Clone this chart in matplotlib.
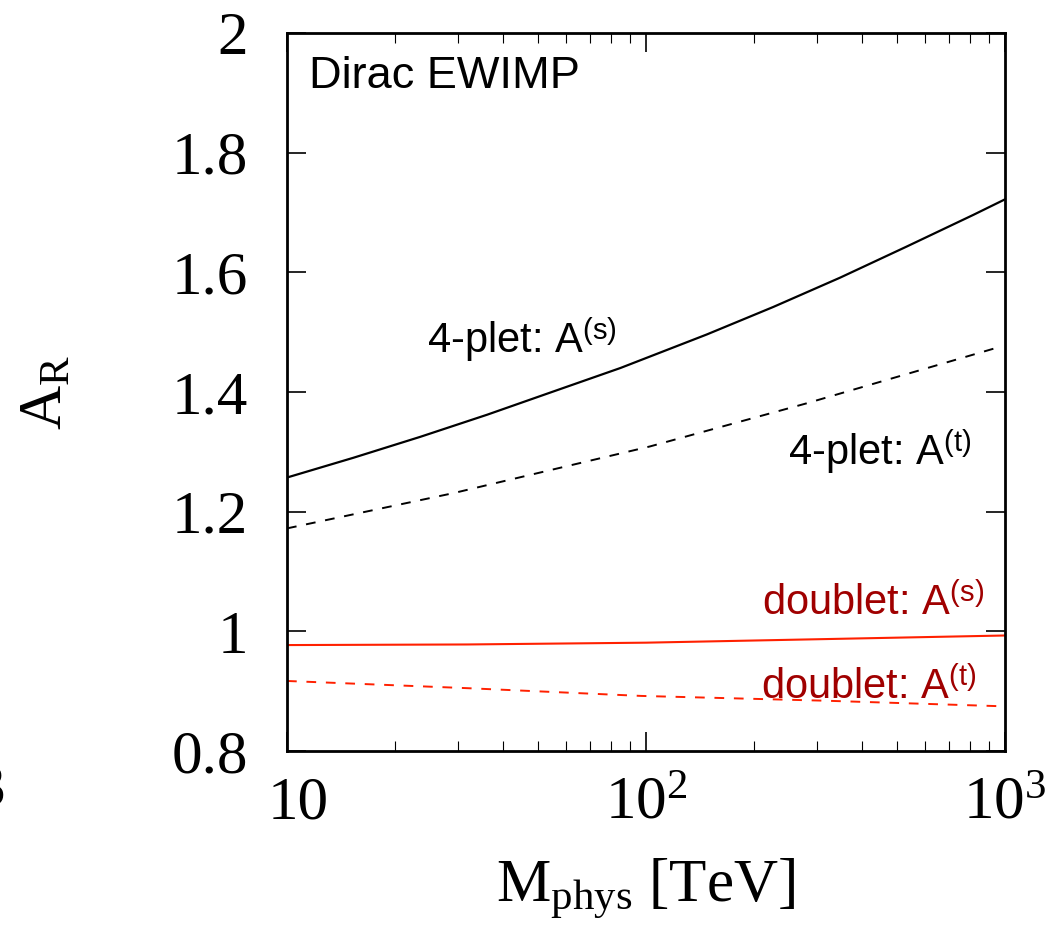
import numpy as np
import matplotlib
matplotlib.use('Agg')
import matplotlib.pyplot as plt
from matplotlib.ticker import LogLocator, FixedLocator, NullFormatter
from matplotlib.transforms import ScaledTranslation

plt.rcParams['mathtext.fontset'] = 'custom'
plt.rcParams['mathtext.rm'] = 'Liberation Serif'
plt.rcParams['mathtext.it'] = 'Liberation Serif:italic'
plt.rcParams['mathtext.sf'] = 'Liberation Sans'

# values
m_4s = [10, 15.3, 23.5, 36.1, 55.3, 84.8, 147.5, 226, 347, 532, 816, 1000]
a_4s = [1.257, 1.290, 1.325, 1.362, 1.401, 1.440, 1.496, 1.542, 1.591, 1.643, 1.696, 1.722]
m_4t = [10, 29.1, 102.6, 280, 937]
a_4t = [1.172, 1.231, 1.309, 1.381, 1.473]
m_2s = [10, 31.7, 100, 316, 1000]
a_2s = [0.977, 0.978, 0.981, 0.987, 0.993]
m_2t = [10, 31.7, 97, 316, 948]
a_2t = [0.917, 0.905, 0.892, 0.884, 0.875]

yticks = [0.8, 1.0, 1.2, 1.4, 1.6, 1.8, 2.0]
ytick_labels = ['0.8', '1', '1.2', '1.4', '1.6', '1.8', '2']
xticks = [10, 100, 1000]
xtick_labels = ['10', r'10$^{2}$', r'10$^{3}$']

serif = 'Liberation Serif'
sans = 'Liberation Sans'
dark_red = '#a00000'
line_red = '#ff2000'

fig = plt.figure(figsize=(10.63, 9.5), dpi=100)
ax = fig.add_axes([0.270, 0.2095, 0.6755, 0.7558])

ax.plot(m_4s, a_4s, color='k', lw=1.6)
ax.plot(m_4t, a_4t, color='k', lw=1.4, ls=(0, (5, 5)))
ax.plot(m_2s, a_2s, color=line_red, lw=1.5)
ax.plot(m_2t, a_2t, color=line_red, lw=1.4, ls=(0, (5, 5)))

ax.set_xscale('log')
ax.set_xlim(10, 1000)
ax.set_ylim(0.8, 2.0)

ax.xaxis.set_major_locator(FixedLocator(xticks))
ax.set_xticklabels(xtick_labels, fontfamily=serif, fontsize=44)
ax.xaxis.set_minor_locator(LogLocator(base=10, subs=np.arange(2, 10)))
ax.xaxis.set_minor_formatter(NullFormatter())
ax.set_yticks(yticks)
ax.set_yticklabels(ytick_labels, fontfamily=serif, fontsize=44)

ax.tick_params(which='both', direction='in', top=True, right=True)
ax.tick_params(which='major', length=14, width=1.2)
ax.tick_params(which='minor', length=7, width=0.8)
ax.tick_params(axis='x', pad=18)
ax.tick_params(axis='y', pad=28)
for s in ax.spines.values():
    s.set_linewidth(2.0)

# first x label sits a little right of its tick in the original
lab0 = ax.get_xticklabels()[0]
lab0.set_transform(lab0.get_transform() + ScaledTranslation(0.11, 0, fig.dpi_scale_trans))

ax.set_xlabel(r'M$_{\rm phys}$ [TeV]', fontfamily=serif, fontsize=44, labelpad=18)
ax.set_ylabel(r'A$_{\rm R}$', fontfamily=serif, fontsize=44, labelpad=70)

ax.text(0.03, 0.94, 'Dirac EWIMP', transform=ax.transAxes, fontfamily=sans,
        fontsize=32.5, va='center', ha='left')
ax.text(24.5, 1.465, r'4-plet: A$^{\mathsf{(s)}}$', fontfamily=sans, fontsize=30, color='k')
ax.text(248, 1.278, r'4-plet: A$^{\mathsf{(t)}}$', fontfamily=sans, fontsize=30, color='k')
ax.text(211, 1.027, r'doublet: A$^{\mathsf{(s)}}$', fontfamily=sans, fontsize=30,
        color=dark_red)
ax.text(209, 0.888, r'doublet: A$^{\mathsf{(t)}}$', fontfamily=sans, fontsize=30,
        color=dark_red)

# edge of neighbouring panel
fig.text(-0.024, 0.168, '3', fontfamily=serif, fontsize=44, va='center')

fig.savefig('out.png', dpi=100)
